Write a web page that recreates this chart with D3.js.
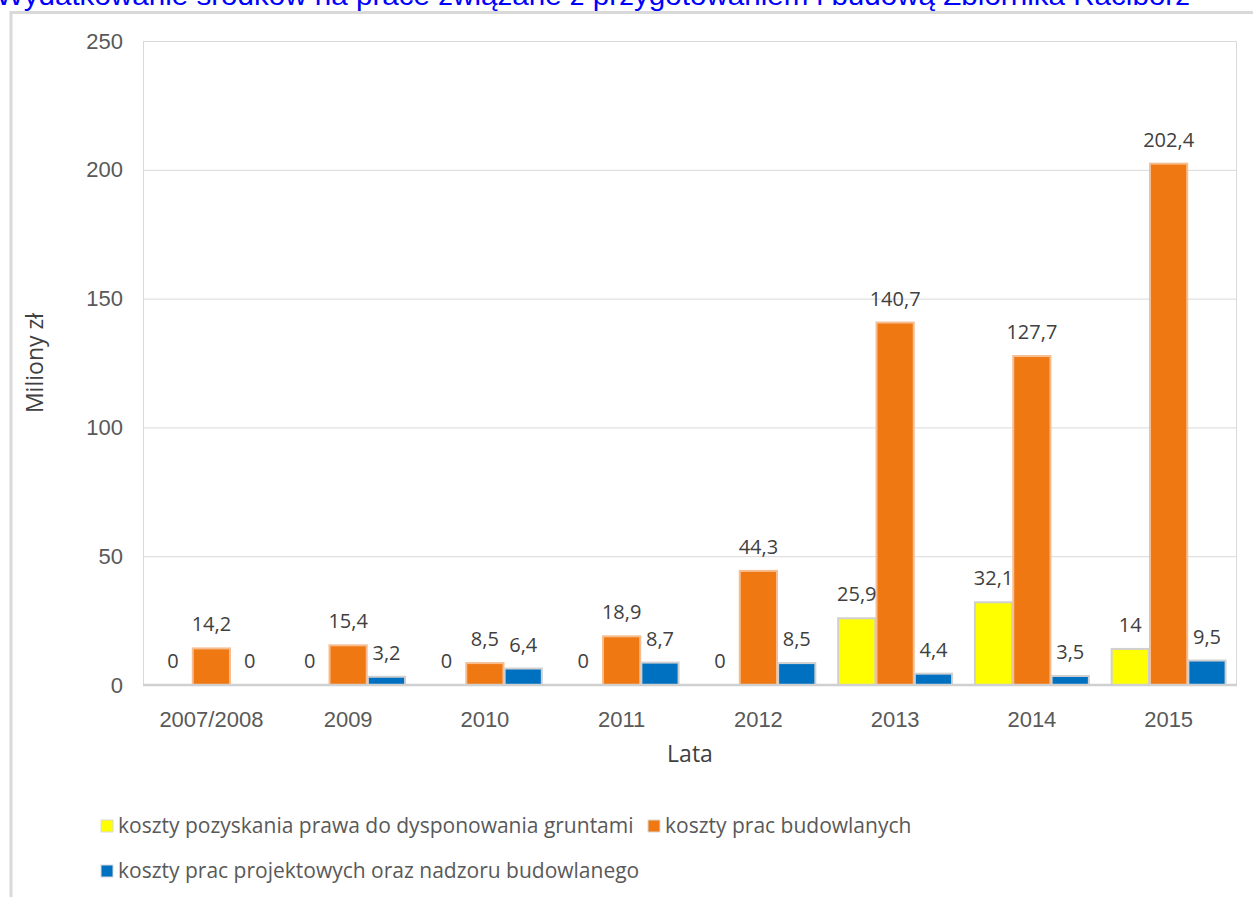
<!DOCTYPE html>
<html>
<head>
<meta charset="utf-8">
<script src="https://cdn.jsdelivr.net/npm/d3@7"></script>
<style>
    body { margin: 0; background: #fff; overflow: hidden; }
    svg { display: block; font-family: 'Open Sans', sans-serif; }
    .tick-label { fill: #595959; font-size: 22px; }
    .bar-label { fill: #404040; font-size: 20px; }
    .axis-title { fill: #404040; font-size: 23px; }
    .legend-label { fill: #595959; font-size: 21px; }
</style>
</head>
<body>
<svg id="chart"></svg>
<script>
// data (millions of zloty)
const years = ['2007/2008', '2009', '2010', '2011', '2012', '2013', '2014', '2015']
const seriesNames = [
    'koszty pozyskania prawa do dysponowania gruntami',
    'koszty prac budowlanych',
    'koszty prac projektowych oraz nadzoru budowlanego'
]
const landCosts = [0, 0, 0, 0, 0, 25.9, 32.1, 14]
const buildCosts = [14.2, 15.4, 8.5, 18.9, 44.3, 140.7, 127.7, 202.4]
const designCosts = [0, 3.2, 6.4, 8.7, 8.5, 4.4, 3.5, 9.5]
const yTicks = [0, 50, 100, 150, 200, 250]
const colors = ['#ffff00', '#f07812', '#0070c0']

class Barchart {

    constructor(_config, _data) {
        this.config = {
            parentElement: _config.parentElement,
            containerWidth: _config.containerWidth || 1253,
            containerHeight: _config.containerHeight || 897,
            margin: _config.margin || {top: 41, right: 16, bottom: 212, left: 143},
        }
        this.data = _data
        this.initVis()
    }

    initVis() {
        let vis = this

        vis.width = vis.config.containerWidth - vis.config.margin.left - vis.config.margin.right
        vis.height = vis.config.containerHeight - vis.config.margin.top - vis.config.margin.bottom

        vis.svg = d3.select(vis.config.parentElement)
            .attr('width', vis.config.containerWidth)
            .attr('height', vis.config.containerHeight)

        // outer frame (only top and left edge are inside the crop)
        vis.svg.append('path')
            .attr('d', `M11,${vis.config.containerHeight} V12.5 H${vis.config.containerWidth}`)
            .attr('fill', 'none')
            .attr('stroke', '#d9d9d9')
            .attr('stroke-width', 3)

        // title, clipped at the top of the picture like in the source
        vis.svg.append('text')
            .attr('x', -4)
            .attr('y', 5)
            .attr('fill', '#0000ff')
            .attr('font-family', 'Liberation Sans, Arial, sans-serif')
            .attr('font-size', 27)
            .attr('textLength', 1194)
            .attr('lengthAdjust', 'spacingAndGlyphs')
            .text('Wydatkowanie środków na prace związane z przygotowaniem i budową Zbiornika Racibórz')

        vis.chart = vis.svg.append('g')
            .attr('transform', `translate(${vis.config.margin.left},${vis.config.margin.top})`)

        vis.xScale = d3.scaleBand()
            .domain(years)
            .range([0, vis.width])
            .paddingInner(0.15)
            .paddingOuter(0.075)

        vis.xInner = d3.scaleBand()
            .domain(d3.range(seriesNames.length))
            .range([0, vis.xScale.bandwidth()])
            .padding(0.03)

        vis.yScale = d3.scaleLinear()
            .domain([0, 250])
            .range([vis.height, 0])

        vis.yAxis = d3.axisLeft(vis.yScale)
            .tickValues(yTicks)
            .tickSize(-vis.width)
            .tickPadding(20)

        vis.xAxis = d3.axisBottom(vis.xScale)
            .tickSize(0)
            .tickPadding(26)

        vis.yAxisG = vis.chart.append('g').attr('class', 'axis y-axis').call(vis.yAxis)
        vis.yAxisG.select('.domain').remove()
        vis.yAxisG.selectAll('line').attr('stroke', '#d9d9d9')
        vis.yAxisG.selectAll('text').attr('class', 'tick-label').attr('fill', null)
            .attr('font-size', null).attr('font-family', null)

        // plot area side edges
        vis.chart.append('line').attr('x1', 0.5).attr('x2', 0.5).attr('y1', 0).attr('y2', vis.height)
            .attr('stroke', '#d9d9d9')
        vis.chart.append('line').attr('x1', vis.width - 0.5).attr('x2', vis.width - 0.5)
            .attr('y1', 0).attr('y2', vis.height).attr('stroke', '#d9d9d9')

        vis.xAxisG = vis.chart.append('g')
            .attr('class', 'axis x-axis')
            .attr('transform', `translate(0,${vis.height})`)
            .call(vis.xAxis)
        vis.xAxisG.select('.domain').remove()
        vis.xAxisG.selectAll('text').attr('class', 'tick-label').attr('fill', null)
            .attr('font-size', null).attr('font-family', null)

        vis.chart.append('text')
            .attr('class', 'axis-title')
            .attr('x', vis.width / 2)
            .attr('y', vis.height + 77)
            .attr('text-anchor', 'middle')
            .text('Lata')

        vis.chart.append('text')
            .attr('class', 'axis-title')
            .attr('transform', `translate(${43 - vis.config.margin.left},${vis.height / 2}) rotate(-90)`)
            .attr('text-anchor', 'middle')
            .text('Miliony zł')

        vis.renderVis()
    }

    renderVis() {
        let vis = this
        const fmt = d => String(d).replace('.', ',')

        const rows = years.map((y, i) => ({
            year: y,
            values: vis.data.map((s, k) => ({k: k, value: s[i]}))
        }))

        const groups = vis.chart.selectAll('.group')
            .data(rows)
            .join('g')
            .attr('class', 'group')
            .attr('transform', d => `translate(${vis.xScale(d.year)},0)`)

        groups.selectAll('rect')
            .data(d => d.values.filter(v => v.value > 0))
            .join('rect')
            .attr('x', d => vis.xInner(d.k))
            .attr('width', vis.xInner.bandwidth())
            .attr('y', d => vis.yScale(d.value))
            .attr('height', d => vis.height - vis.yScale(d.value))
            .attr('fill', d => colors[d.k])
            .attr('stroke', d => d.k === 1 ? '#f6bd90' : '#d0d0d0')
            .attr('stroke-width', 2)

        groups.selectAll('.bar-label')
            .data(d => d.values)
            .join('text')
            .attr('class', 'bar-label')
            .attr('x', d => vis.xInner(d.k) + vis.xInner.bandwidth() / 2)
            .attr('y', d => vis.yScale(d.value) - 17)
            .attr('text-anchor', 'middle')
            .text(d => fmt(d.value))

        // baseline on top of the bars
        vis.chart.append('line')
            .attr('x1', 0).attr('x2', vis.width)
            .attr('y1', vis.height).attr('y2', vis.height)
            .attr('stroke', '#d0d0d0')
            .attr('stroke-width', 2.5)

        // legend in two rows
        const legendPos = [[101, 820], [648, 820], [101, 865]]
        const legend = vis.svg.selectAll('.legend')
            .data(seriesNames)
            .join('g')
            .attr('class', 'legend')
            .attr('transform', (d, i) => `translate(${legendPos[i][0]},${legendPos[i][1]})`)
        legend.append('rect')
            .attr('width', 12).attr('height', 12)
            .attr('fill', (d, i) => colors[i])
            .attr('stroke', '#d9d9d9')
            .attr('stroke-width', 1)
        legend.append('text')
            .attr('class', 'legend-label')
            .attr('x', 17)
            .attr('y', 13)
            .text(d => d)
    }
}

new Barchart({parentElement: '#chart'}, [landCosts, buildCosts, designCosts])
</script>
</body>
</html>
